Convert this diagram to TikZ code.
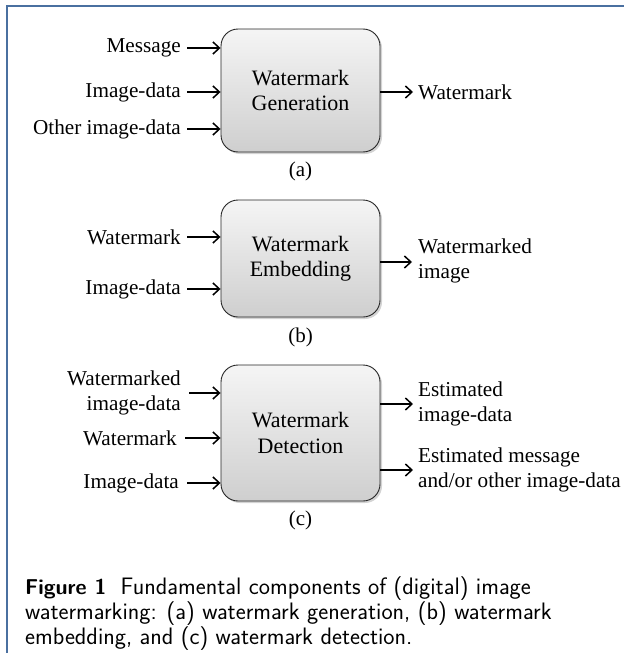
\documentclass[tikz,border=0pt]{standalone}
\usepackage{fontspec}
\setmainfont{Liberation Serif}
\usetikzlibrary{arrows.meta,shadows}
\definecolor{framec}{RGB}{74,112,160}
\tikzset{
  blk/.style={draw=black!85, line width=0.9pt, rounded corners=17pt, minimum width=159pt,
    top color=gray!8, bottom color=gray!38, align=center,
    font=\fontsize{22}{25.5}\selectfont,
    drop shadow={opacity=0.35, shadow xshift=2pt, shadow yshift=-2pt}},
  lbl/.style={font=\fontsize{21.2}{24.5}\selectfont, inner sep=0pt},
  lin/.style={lbl, anchor=east, align=right},
  lout/.style={lbl, anchor=west, align=left},
  arr/.style={-{Straight Barb[length=6.5pt,width=12pt]}, line width=1.5pt},
  sublbl/.style={font=\fontsize{21}{24}\selectfont, inner sep=0pt}
}
\begin{document}
\begin{tikzpicture}[x=1pt,y=-1pt]
\useasboundingbox (0,0) rectangle (624,653);
\draw[framec, line width=2pt] (7,653) -- (7,6) -- (624,6);
% (a)
\node[blk, minimum height=123pt] (ga) at (300.5,90.5) {Watermark\\Generation};
\node[lin] (a1) at (181,48) {Message};
\node[lin] (a2) at (181,92) {Image-data};
\node[lin] (a3) at (181,129) {Other image-data};
\node[lout] (ao) at (418,92) {Watermark};
\foreach \n in {a1,a2,a3} \draw[arr] ([xshift=6pt]\n.east) -- (ga.west |- \n.east);
\draw[arr] (ga.east |- ao.west) -- ([xshift=-5pt]ao.west);
\node[sublbl] (la) at (300.5,171) {(a)};
% (b)
\node[blk, minimum height=117pt] (gb) at (300.5,258.5) {Watermark\\Embedding};
\node[lin] (b1) at (181,237) {Watermark};
\node[lin] (b2) at (181,289) {Image-data};
\coordinate (bo) at (412,262);
\node[lout] (bt) at (418,261) {Watermarked\\image};
\foreach \n in {b1,b2} \draw[arr] ([xshift=6pt]\n.east) -- (gb.west |- \n.east);
\draw[arr] (gb.east |- bo) -- (bo);
\node[sublbl] (lb) at (300.5,337) {(b)};
% (c)
\node[blk, minimum height=136pt] (gc) at (300.5,433) {Watermark\\Detection};
\node[lin] (c1) at (181,393) {Watermarked\\image-data};
\node[lin] (c2) at (177,438) {Watermark};
\node[lin] (c3) at (179,483) {Image-data};
\node[lout] (o1) at (418,404) {Estimated\\image-data};
\node[lout] (o2) at (418,470) {Estimated message\\and/or other image-data};
\foreach \n in {c1,c2,c3} \draw[arr] ([xshift=8pt]\n.east) -- (gc.west |- \n.east);
\draw[arr] (gc.east |- o1.west) -- ([xshift=-5pt]o1.west);
\draw[arr] (gc.east |- o2.west) -- ([xshift=-5pt]o2.west);
\node[sublbl] (lc) at (300.5,520) {(c)};
% caption
\node[anchor=base west, align=left, inner sep=0pt, font=\sffamily\fontsize{23.8}{23}\selectfont] (capt) at (25,644)
  {{\fontsize{21.5}{23}\selectfont\bfseries Figure 1}\hspace{0.6em}Fundamental components of (digital) image\\
   watermarking: (a) watermark generation, (b) watermark\\
   embedding, and (c) watermark detection.};
\end{tikzpicture}
\end{document}
